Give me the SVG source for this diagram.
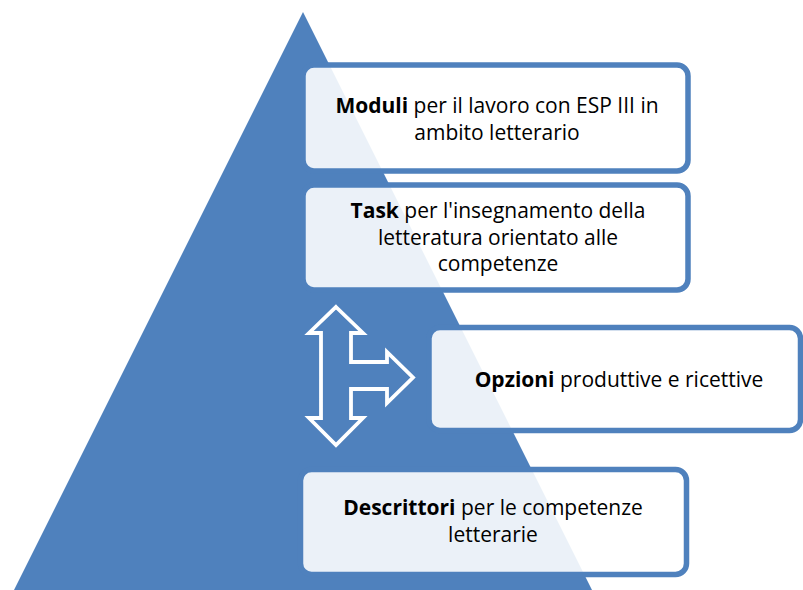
<svg xmlns="http://www.w3.org/2000/svg" width="803" height="590" viewBox="0 0 803 590">
  <style>
    .box { fill: #ffffff; fill-opacity: 0.89; stroke: #4f81bd; stroke-width: 5.5; }
    .label { font-family: "Open Sans", "Liberation Sans", Arial, sans-serif; font-size: 21px; fill: #000000; text-anchor: middle; }
    .label .b { font-weight: bold; }
    .flow { fill: none; stroke: #ffffff; stroke-width: 3.8; stroke-linejoin: miter; }
  </style>

  <!-- background pyramid -->
  <g id="pyramid">
    <polygon points="303,12 592,590 14,590" fill="#4f81bd"/>
  </g>

  <!-- split arrow (up / down / right) -->
  <g id="connectors">
    <path class="flow" d="M336,307 L363,333 L351,333 L351,362 L387,362 L387,352 L413,377.5 L387,403 L387,389 L351,389 L351,418 L363,418 L336,445 L309,418 L321,418 L321,333 L309,333 Z"/>
  </g>

  <g id="moduli">
    <rect class="box" x="303" y="65" width="385" height="106" rx="11"/>
    <text class="label" x="497" y="113"><tspan class="b">Moduli</tspan> per il lavoro con ESP III in</text>
    <text class="label" x="497" y="140">ambito letterario</text>
  </g>

  <g id="task">
    <rect class="box" x="303" y="185" width="385" height="105" rx="11"/>
    <text class="label" x="498" y="218"><tspan class="b">Task</tspan> per l'insegnamento della</text>
    <text class="label" x="498" y="245">letteratura orientato alle</text>
    <text class="label" x="498" y="271">competenze</text>
  </g>

  <g id="opzioni">
    <rect class="box" x="429" y="327.5" width="371.5" height="103" rx="11"/>
    <text class="label" x="619" y="387"><tspan class="b">Opzioni</tspan> produttive e ricettive</text>
  </g>

  <g id="descrittori">
    <rect class="box" x="300.5" y="469.5" width="386" height="105" rx="11"/>
    <text class="label" x="493" y="515"><tspan class="b">Descrittori</tspan> per le competenze</text>
    <text class="label" x="493" y="542">letterarie</text>
  </g>
</svg>
